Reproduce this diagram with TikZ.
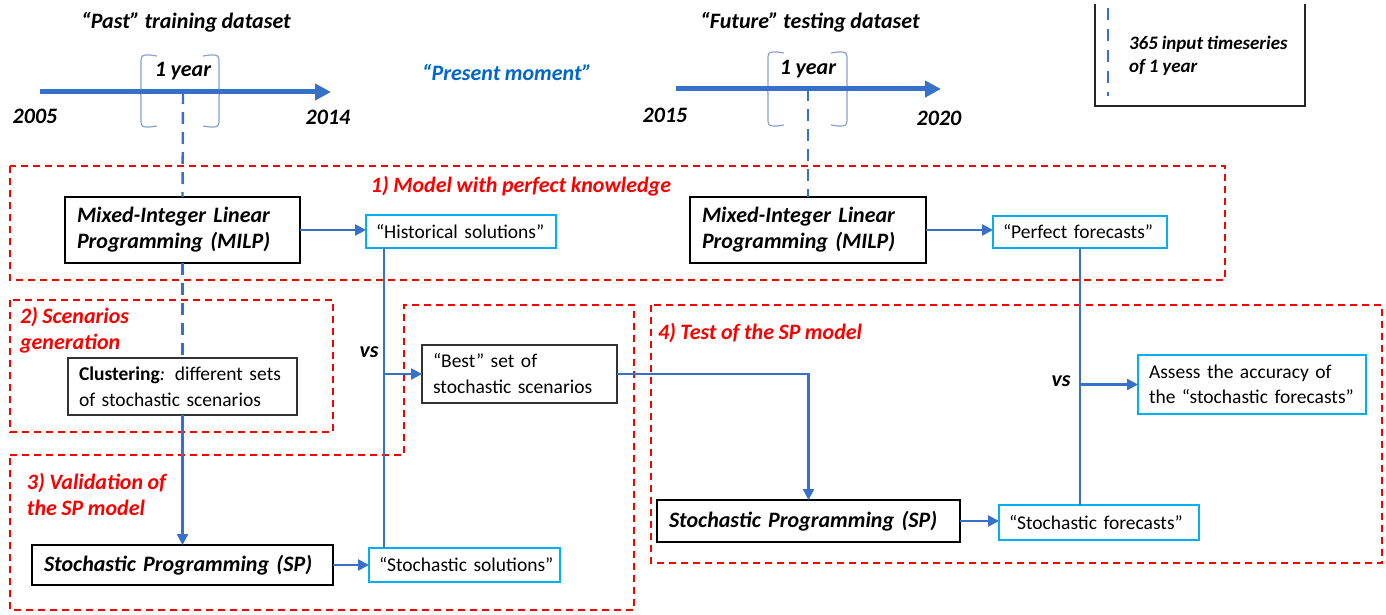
\documentclass[tikz,border=0pt]{standalone}
\usepackage{fontspec}
\setmainfont{Carlito}[WordSpace=0.9]
\usetikzlibrary{arrows.meta}

\definecolor{flowblue}{RGB}{55,112,200}
\definecolor{textblue}{RGB}{0,102,204}
\definecolor{boxcyan}{RGB}{0,176,240}
\definecolor{bracegray}{RGB}{135,160,205}
\definecolor{phasered}{RGB}{250,0,0}

\tikzset{
  x=1pt, y=-1pt,
  every node/.style={inner sep=0pt, outer sep=0pt},
  bi/.style={font=\fontsize{22}{26}\selectfont\bfseries\itshape},
  phase/.style={font=\fontsize{22}{26}\selectfont\bfseries\itshape, text=phasered, align=left},
  zone/.style={draw=phasered, line width=1.7pt, dash pattern=on 7pt off 5pt},
  solver/.style={draw=black, line width=2.8pt, font=\fontsize{22}{26}\selectfont\bfseries\itshape,
    align=left, inner xsep=12pt, anchor=north west},
  plainbox/.style={draw=black!80, line width=1.4pt, font=\fontsize{19.5}{26}\selectfont,
    align=left, inner xsep=11pt, anchor=north west},
  result/.style={draw=boxcyan, line width=1.5pt, font=\fontsize{19.5}{25}\selectfont,
    align=left, inner xsep=10pt, anchor=north west},
  flow/.style={draw=flowblue, line width=2.4pt, -{Triangle[length=11pt,width=11pt]}},
  link/.style={draw=flowblue, line width=2.4pt},
  yearline/.style={draw=flowblue, line width=2.4pt, dash pattern=on 12pt off 8pt},
  timeline/.style={draw=flowblue, line width=5pt, -{Triangle[length=16pt,width=16pt]}},
  bracket/.style={draw=bracegray, line width=1.2pt},
}

% a pair of braces around a one-year window on a time axis:
% #1 left x, #2 right x, #3 top y, #4 tip y, #5 bottom y
\newcommand{\yearwindow}[5]{%
  \draw[bracket] (#1+16,#3+1) .. controls (#1+12,#3) .. (#1+9,#3) .. controls (#1,#3) .. (#1,#3+9)
    -- (#1,#4-6) .. controls (#1,#4-1) .. (#1-4,#4) .. controls (#1,#4+1) .. (#1,#4+6)
    -- (#1,#5-9) .. controls (#1,#5) .. (#1+9,#5) .. controls (#1+12,#5) .. (#1+16,#5-1);
  \draw[bracket] (#2-16,#3+1) .. controls (#2-12,#3) .. (#2-9,#3) .. controls (#2,#3) .. (#2,#3+9)
    -- (#2,#4-6) .. controls (#2,#4-1) .. (#2+5,#4) .. controls (#2,#4+1) .. (#2,#4+6)
    -- (#2,#5-9) .. controls (#2,#5) .. (#2-9,#5) .. controls (#2-12,#5) .. (#2-16,#5-1);
}

\begin{document}
\begin{tikzpicture}
\useasboundingbox (0,0) rectangle (1386,615);

% ---------- time axes ----------
\node[bi] (pasttitle) at (186,22) {“Past” training dataset};
\node[bi] (futuretitle) at (810,22) {“Future” testing dataset};
\node[bi, text=textblue] (present) at (507,72) {“Present moment”};

\coordinate (pastA) at (40,92);
\coordinate (pastB) at (331,92);
\coordinate (pastyear) at (183,92);
\yearwindow{141}{219}{55}{92}{127}
\draw[timeline] (pastA) -- (pastB);
\node[bi] (pastwin) at (183,71) {1 year};
\node[bi] (y2005) at (35,116) {2005};
\node[bi] (y2014) at (328,117) {2014};

\coordinate (futA) at (676,89);
\coordinate (futB) at (941,89);
\coordinate (futyear) at (808,89);
\yearwindow{768}{847}{52}{89}{126}
\draw[timeline] (futA) -- (futB);
\node[bi] (futwin) at (808,69) {1 year};
\node[bi] (y2015) at (665,115) {2015};
\node[bi] (y2020) at (939,118) {2020};

% ---------- legend ----------
\coordinate (legA) at (1095,4);
\coordinate (legB) at (1305,4);
\coordinate (legC) at (1108,8);
\coordinate (legD) at (1108,96);
\draw[black!85, line width=1.6pt] (legA) -- (legA |- 0,106) -- (legB |- 0,106) -- (legB);
\draw[yearline, line width=2pt, dash pattern=on 12pt off 9pt] (legC) -- (legD);
\node[anchor=west, align=left, font=\fontsize{19}{23}\selectfont\bfseries\itshape] (legtext)
  at (1129,56) {365 input timeseries\\of 1 year};

% ---------- phase zones ----------
\draw[zone] (10,166) rectangle (1225,280);
\draw[zone] (10,300) rectangle (333,432);
\draw[zone] (10,455) -- (404,455) -- (404,305) -- (634,305) -- (634,610) -- (10,610) -- cycle;
\draw[zone] (651,305) rectangle (1382,563);

\node[phase] (ph1) at (521,186) {1) Model with perfect knowledge};
\node[phase, anchor=north west] (ph2) at (20,307) {2) Scenarios\\generation};
\node[phase, anchor=north west] (ph3) at (27,473) {3) Validation of\\the SP model};
\node[phase, anchor=west] (ph4) at (658,333) {4) Test of the SP model};

% ---------- boxes ----------
\node[solver, text width=211pt, minimum height=66pt] (milpA) at (65,197)
  {Mixed-Integer Linear\\Programming (MILP)};
\node[result, text width=170pt, minimum height=33pt] (hist) at (366,215)
  {\mbox{“Historical solutions”}};
\node[plainbox, text width=207pt, minimum height=57pt] (clust) at (68,358)
  {\textbf{Clustering}\textit{:} different sets\\of stochastic scenarios};
\node[plainbox, text width=173pt, minimum height=58pt] (best) at (422,345)
  {“Best” set of\\stochastic scenarios};
\node[solver, text width=277pt, minimum height=40pt] (spA) at (32,545)
  {\mbox{Stochastic Programming (SP)}};
\node[result, text width=171pt, minimum height=34pt] (sol) at (369,548)
  {\mbox{“Stochastic solutions”}};

\node[solver, text width=212pt, minimum height=66pt] (milpB) at (690,197)
  {Mixed-Integer Linear\\Programming (MILP)};
\node[result, text width=154pt, minimum height=32pt] (perf) at (993,216)
  {\mbox{“Perfect forecasts”}};
\node[result, text width=206pt, minimum height=59pt, inner xsep=11pt] (assess) at (1138,355)
  {Assess the accuracy of\\the “stochastic forecasts”};
\node[solver, text width=279pt, minimum height=42pt] (spB) at (657,500)
  {\mbox{Stochastic Programming (SP)}};
\node[result, text width=180pt, minimum height=35pt] (fcast) at (999,505)
  {\mbox{“Stochastic forecasts”}};

\node[bi] (vsA) at (369,352) {vs};
\node[bi] (vsB) at (1061,381) {vs};

% ---------- connectors ----------
\coordinate (histx) at (384,0);

\draw[yearline] (pastyear) -- (milpA.north);
\draw[yearline] (milpA.south) -- (clust.north);
\draw[yearline] (futyear) -- (milpB.north);

\draw[flow] (milpA.east) -- (milpA.east -| hist.west);
\draw[link] (histx |- hist.south) -- (histx |- sol.north);
\draw[flow] (histx |- best.west) -- (best.west);
\draw[flow] (clust.south) -- (spA.north);
\draw[flow] (spA.east) -- (spA.east -| sol.west);
\draw[flow] (best.east) -| (spB.north);

\draw[flow] (milpB.east) -- (milpB.east -| perf.west);
\draw[link] (perf.south) -- (perf.south |- fcast.north);
\draw[flow] (perf.south |- assess.west) -- (assess.west);
\draw[flow] (spB.east) -- (spB.east -| fcast.west);
\end{tikzpicture}
\end{document}
